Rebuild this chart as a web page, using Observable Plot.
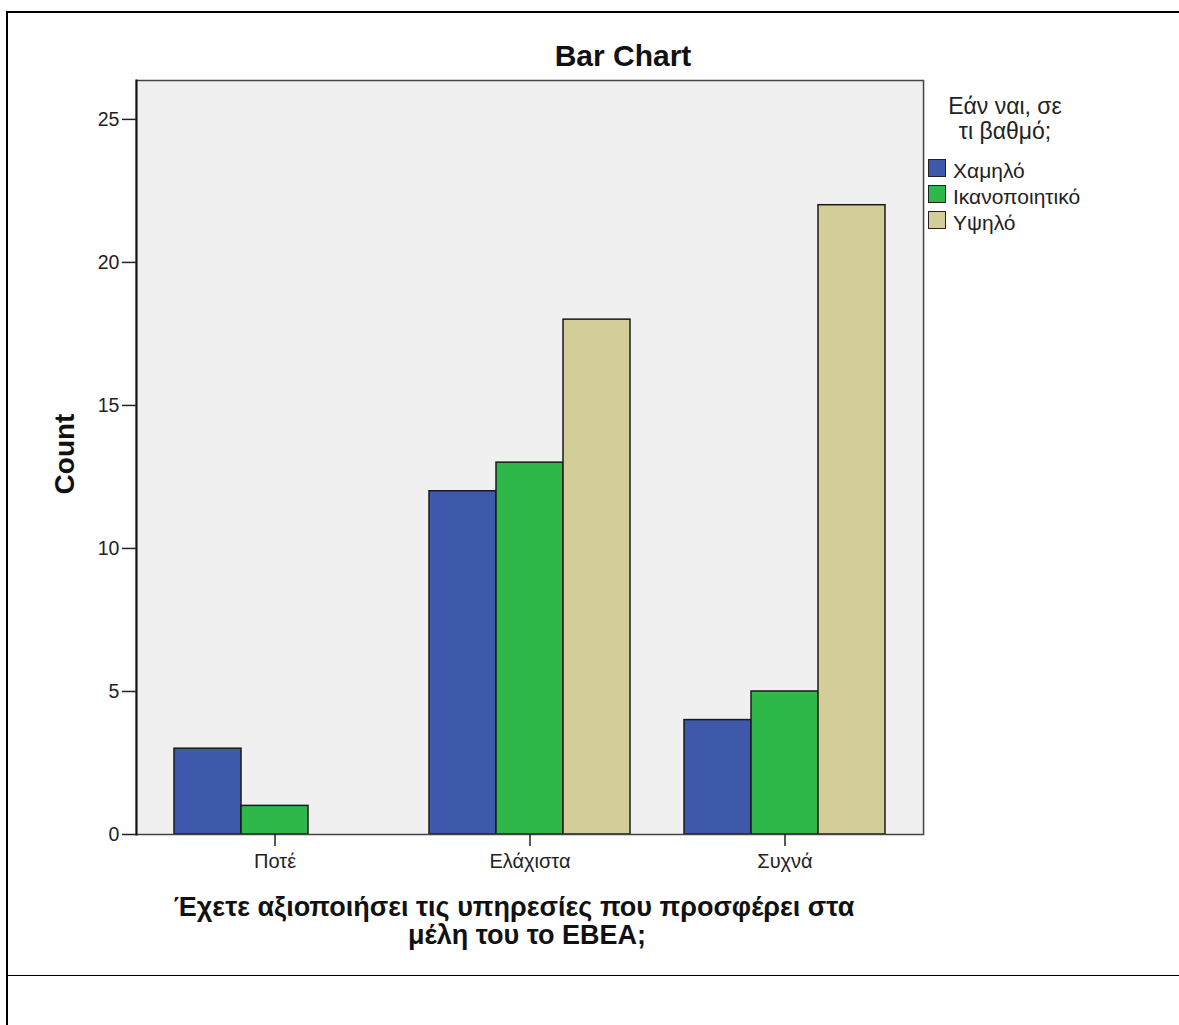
<!DOCTYPE html>
<html><head><meta charset="utf-8">
<script src="https://cdn.jsdelivr.net/npm/d3@7"></script>
<script src="https://cdn.jsdelivr.net/npm/@observablehq/plot@0.6"></script>
<style>
html,body{margin:0;padding:0;overflow:hidden;background:#fff;}
#page{position:relative;width:1179px;height:1025px;font-family:"Liberation Sans",Arial,sans-serif;color:#111;}
.abs{position:absolute;white-space:nowrap;}
#chart{position:absolute;left:0;top:0;}
.line{position:absolute;background:#000;}
.title{font-weight:bold;font-size:30px;line-height:1;text-align:center;}
.xt{font-weight:bold;font-size:27px;line-height:1;text-align:center;}
.yt{font-weight:bold;font-size:28px;line-height:30px;height:30px;width:200px;text-align:center;transform:rotate(-90deg);}
.lt{font-size:23px;line-height:1;text-align:center;color:#222;}
.sw{width:16px;height:16px;border:1px solid #222;}
.ll{font-size:21px;line-height:1;color:#222;}
</style></head><body><div id="page"></div>
<script>
const categories = ["Ποτέ", "Ελάχιστα", "Συχνά"];
const series = ["Χαμηλό", "Ικανοποιητικό", "Υψηλό"];
const colors = ["#3e58ac", "#2eb84a", "#d3ce97"];
const valuesLow = [3, 12, 4];
const valuesMid = [1, 13, 5];
const valuesHigh = [0, 18, 22];
const yTicks = [0, 5, 10, 15, 20, 25];
const yMax = 26.36;
const title = "Bar Chart";
const yLabel = "Count";
const xLabelLines = ["Έχετε αξιοποιήσει τις υπηρεσίες που προσφέρει στα", "μέλη του το ΕΒΕΑ;"];
const legendTitleLines = ["Εάν ναι, σε", "τι βαθμό;"];

const seriesValues = [valuesLow, valuesMid, valuesHigh];
const data = categories.flatMap((c, i) => series.map((s, j) => ({cat: c, series: s, value: seriesValues[j][i]})))
  .filter(d => d.value > 0);

const page = document.getElementById("page");
function add(cls, css, text) {
  const el = document.createElement("div");
  el.className = cls;
  el.style.cssText = css;
  if (text != null) el.textContent = text;
  page.appendChild(el);
  return el;
}

// layout
const W = 1179, H = 975, mL = 135, mR = 256, mT = 80, mB = 141;
const fxPadInner = 0.212, fxPadOuter = 0.149;
// outer band padding in pixels (space between the plot frame and the first/last group)
const step = (W - mL - mR) / (categories.length - fxPadInner + 2 * fxPadOuter);
const outer = fxPadOuter * step;

const chart = Plot.plot({
  width: W, height: H,
  marginLeft: mL, marginRight: mR, marginTop: mT, marginBottom: mB,
  style: {fontFamily: '"Liberation Sans", Arial, sans-serif', fontSize: "20px", color: "#222", background: "transparent", overflow: "visible"},
  fx: {domain: categories, paddingInner: fxPadInner, paddingOuter: fxPadOuter, label: null},
  x: {domain: series, padding: 0, axis: null},
  y: {domain: [0, yMax], label: null},
  color: {domain: series, range: colors},
  marks: [
    Plot.frame({facet: "super", fill: "#f0f0f0", insetLeft: -outer, insetRight: -outer}),
    Plot.barY(data, {fx: "cat", x: "series", y: "value", fill: "series", stroke: "#1a1a1a", strokeWidth: 1.5}),
    Plot.frame({facet: "super", stroke: "#444", strokeWidth: 1.5, insetLeft: -outer, insetRight: -outer}),
    Plot.frame({facet: "super", anchor: "left", stroke: "#111", strokeWidth: 2, insetLeft: -outer}),
    Plot.axisY({ticks: yTicks, tickSize: 14, tickPadding: 3, label: null, fontSize: 19.5, strokeWidth: 1.5, dx: -outer}),
    Plot.axisFx({anchor: "bottom", tickSize: 12, tickPadding: 7, label: null, fontSize: 20, strokeWidth: 1.5})
  ]
});
chart.id = "chart";
page.appendChild(chart);

// page borders
add("line", "left:6px;top:11px;width:2px;height:1014px;");
add("line", "left:6px;top:11px;width:1173px;height:2px;");
add("line", "left:8px;top:975px;width:1171px;height:1px;");

// titles
add("abs title", "left:423px;top:41px;width:400px;", title);
add("abs yt", "left:-35px;top:439px;", yLabel);
add("abs xt", "left:164px;top:894px;width:700px;", xLabelLines[0]);
add("abs xt", "left:177px;top:922px;width:700px;", xLabelLines[1]);

// legend
add("abs lt", "left:905px;top:95px;width:200px;", legendTitleLines[0]);
add("abs lt", "left:905px;top:120px;width:200px;", legendTitleLines[1]);
series.forEach((s, i) => {
  add("abs sw", `left:928px;top:${159 + i * 26}px;background:${colors[i]};`);
  add("abs ll", `left:953px;top:${160 + i * 26}px;`, s);
});
</script></body></html>
